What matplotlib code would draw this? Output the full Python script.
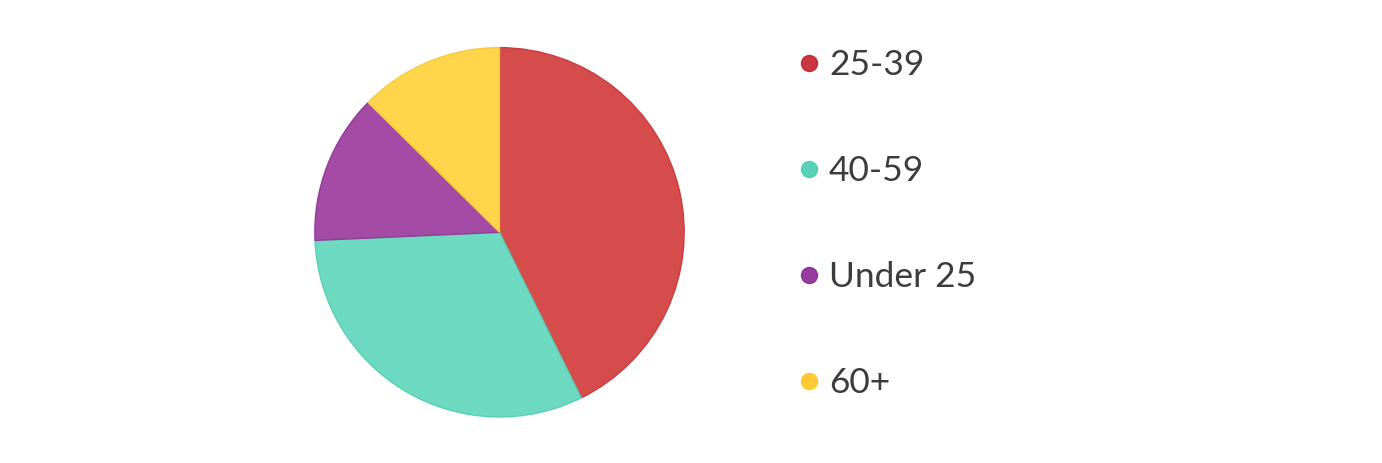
import matplotlib
matplotlib.use("Agg")
import matplotlib.pyplot as plt

# age group shares (%)
labels = ["25-39", "40-59", "Under 25", "60+"]
shares = [42.7, 31.6, 13.1, 12.6]
fill_colors = ["#D64C4D", "#6DD9C1", "#A44BA5", "#FFD54B"]
edge_colors = ["#C93C3E", "#55D1B5", "#923A9A", "#F8C93C"]
dot_colors = ["#C4202A", "#45CDAE", "#8A2795", "#FFC61E"]

W, H = 1382, 463
fig = plt.figure(figsize=(W / 100, H / 100), dpi=100)
fig.patch.set_facecolor("white")

# pie axes placed by pixel centre and radius
cx, cy, r = 499.5, 232.3, 186.5
ax = fig.add_axes([(cx - r) / W, (H - cy - r) / H, 2 * r / W, 2 * r / H])
wedges, _ = ax.pie(shares, colors=fill_colors, startangle=90, counterclock=False,
                   radius=1, wedgeprops=dict(linewidth=1.0))
for w, ec in zip(wedges, edge_colors):
    w.set_edgecolor(ec)
ax.set_xlim(-1.01, 1.01)
ax.set_ylim(-1.01, 1.01)
ax.set_aspect("equal")
ax.axis("off")

# legend drawn by hand on a pixel overlay
lg = fig.add_axes([0, 0, 1, 1])
lg.set_xlim(0, W)
lg.set_ylim(H, 0)
lg.axis("off")
rows_y = [63, 169, 275, 381]
for y, lab, dc in zip(rows_y, labels, dot_colors):
    lg.plot([809], [y], "o", ms=11.5, color=dc, mec=dc, alpha=0.9)
    lg.text(829, y + 2, lab, fontsize=25.5, family="Lato", color="#3C3C3C",
            va="center", ha="left")

fig.savefig("out.png", dpi=100, facecolor="white")
